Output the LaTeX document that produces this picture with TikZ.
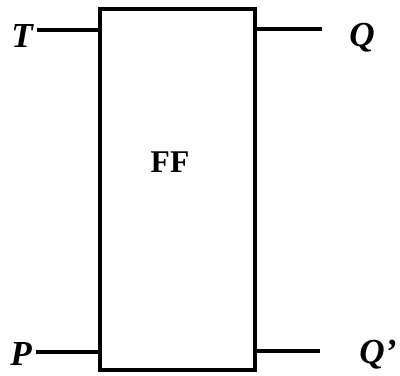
\documentclass[tikz,border=0pt]{standalone}
\usepackage{fontspec}
\setmainfont{Liberation Serif}
\usetikzlibrary{positioning, calc}

\begin{document}
\begin{tikzpicture}[
    x=0.02cm, y=-0.02cm,
    ffbox/.style={rectangle, draw=black, line width=1.8pt, minimum width=3.1cm, minimum height=7.22cm, inner sep=0pt},
    pinline/.style={draw=black, line width=1.8pt},
    pinlabel/.style={font=\fontsize{20}{22}\selectfont\bfseries\itshape, inner sep=0pt},
    boxlabel/.style={font=\fontsize{18}{20}\selectfont\bfseries, inner sep=0pt}
]
\useasboundingbox (0,0) rectangle (400,376);

\node[ffbox] (ff) at (177.5,189.5) {};
\node[boxlabel] (ffname) at (170,162) {FF};

% inputs
\coordinate (tin) at (37,30);
\coordinate (pinput) at (36,352);
\node[pinlabel] (tlabel) at (22,36) {T};
\node[pinlabel] (plabel) at (21,354) {P};
\draw[pinline] (tin) -- (tin -| ff.west);
\draw[pinline] (pinput) -- (pinput -| ff.west);

% outputs
\coordinate (qout) at (322,29);
\coordinate (qbout) at (320,351);
\node[pinlabel] (qlabel) at (362,38) {Q};
\node[pinlabel] (qblabel) at (378,355) {Q'};
\draw[pinline] (qout -| ff.east) -- (qout);
\draw[pinline] (qbout -| ff.east) -- (qbout);
\end{tikzpicture}
\end{document}
